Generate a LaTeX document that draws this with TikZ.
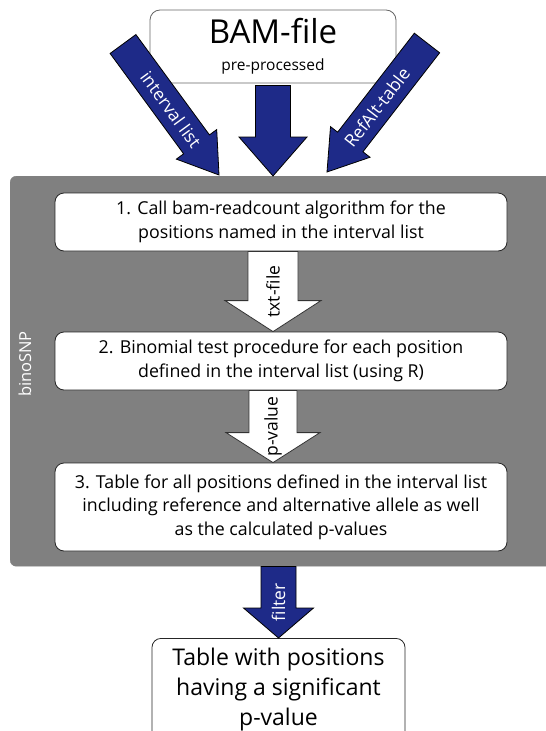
\documentclass[tikz,border=0pt]{standalone}
\usepackage{fontspec}
\setmainfont{Open Sans}
\usetikzlibrary{calc}
\definecolor{navy}{RGB}{30,42,136}
\definecolor{panelgrey}{RGB}{128,128,128}
\def\blockarrow[#1](#2)(#3)(#4:#5:#6)#7{%
  \coordinate (hb) at ($(#3)!#6!(#2)$);
  \draw[#1] ($(#2)!#4!90:(#3)$) -- ($(hb)!#4!-90:(#2)$) -- ($(hb)!#5!-90:(#2)$) -- (#3)
    -- ($(hb)!#5!90:(#2)$) -- ($(hb)!#4!90:(#2)$) -- ($(#2)!#4!-90:(#3)$) -- cycle;
  \path (#3) -- (#2) node[pos=0.5, sloped, #1 label] {#7};}

\begin{document}
\begin{tikzpicture}[x=1pt, y=-1pt,
    box/.style={draw=black!85, fill=white, rounded corners=9pt, line width=0.8pt,
      align=center, inner sep=0pt, font=\fontsize{17.8}{23.5}\selectfont},
    bluearrow/.style={draw=black, fill=navy, line width=0.8pt},
    bluearrow label/.style={text=white, font=\fontsize{17.5}{18}\selectfont},
    whitearrow/.style={draw=black!80, fill=white, line width=0.8pt},
    whitearrow label/.style={text=black, font=\fontsize{17.5}{18}\selectfont}]
  %%%%% START %%%%%
  \useasboundingbox (0,0) rectangle (546,731);

  \node[draw=black!50, fill=panelgrey, rounded corners=6pt, minimum width=550pt,
    minimum height=390pt, anchor=north west] (core) at (10,176) {};
  \node[rotate=90, text=white, font=\fontsize{16.5}{17}\selectfont] (tool) at (25,364) {binoSNP};

  \node[box, draw=black!60, rounded corners=10pt, minimum width=246pt, minimum height=73pt,
    font=\fontsize{33}{30}\selectfont] (bam) at (273,46.5)
    {BAM-file\\[-3pt]{\fontsize{15.5}{18}\selectfont pre-processed}};

  \node[box, minimum width=452pt, minimum height=58pt] (step1) at (281,222)
    {1. Call bam-readcount algorithm for the\\positions named in the interval list};
  \node[box, minimum width=452pt, minimum height=58pt] (step2) at (281,361)
    {2. Binomial test procedure for each position\\defined in the interval list (using R)};
  \node[box, minimum width=452pt, minimum height=88pt] (step3) at (281,507)
    {3. Table for all positions defined in the interval list\\including reference and alternative allele as well\\as the calculated p-values};

  \node[box, minimum width=253pt, minimum height=103pt, anchor=north,
    font=\fontsize{23}{30}\selectfont] (result) at (278.5,638)
    {Table with positions\\having a significant\\p-value};

  % inputs
  \coordinate (bamout) at ($(bam.south)+(0,2)$);
  \coordinate (bamin) at (bam.south |- core.north);
  \coordinate (iltail) at (123,44);
  \coordinate (iltip) at (219,175);
  \coordinate (ratail) at (427,43);
  \coordinate (ratip) at (327,172);
  \blockarrow[bluearrow](bamout)(bamin)(17.5pt:34pt:39pt){}
  \blockarrow[bluearrow](iltail)(iltip)(16pt:25pt:38pt){interval list}
  \blockarrow[bluearrow](ratail)(ratip)(16pt:25pt:38pt){RefAlt-table}

  % inside binoSNP
  \coordinate (s1out) at (bam.south |- step1.south);
  \coordinate (s2in) at (bam.south |- step2.north);
  \coordinate (s2out) at (bam.south |- step2.south);
  \coordinate (s3in) at (bam.south |- step3.north);
  \blockarrow[whitearrow](s1out)(s2in)(25pt:48pt:31pt){txt-file}
  \blockarrow[whitearrow](s2out)(s3in)(24pt:47pt:30pt){p-value}

  % output
  \coordinate (coreout) at (result.north |- core.south);
  \blockarrow[bluearrow](coreout)(result.north)(17.5pt:35pt:30pt){filter}
  %%%%% END %%%%%
\end{tikzpicture}
\end{document}
